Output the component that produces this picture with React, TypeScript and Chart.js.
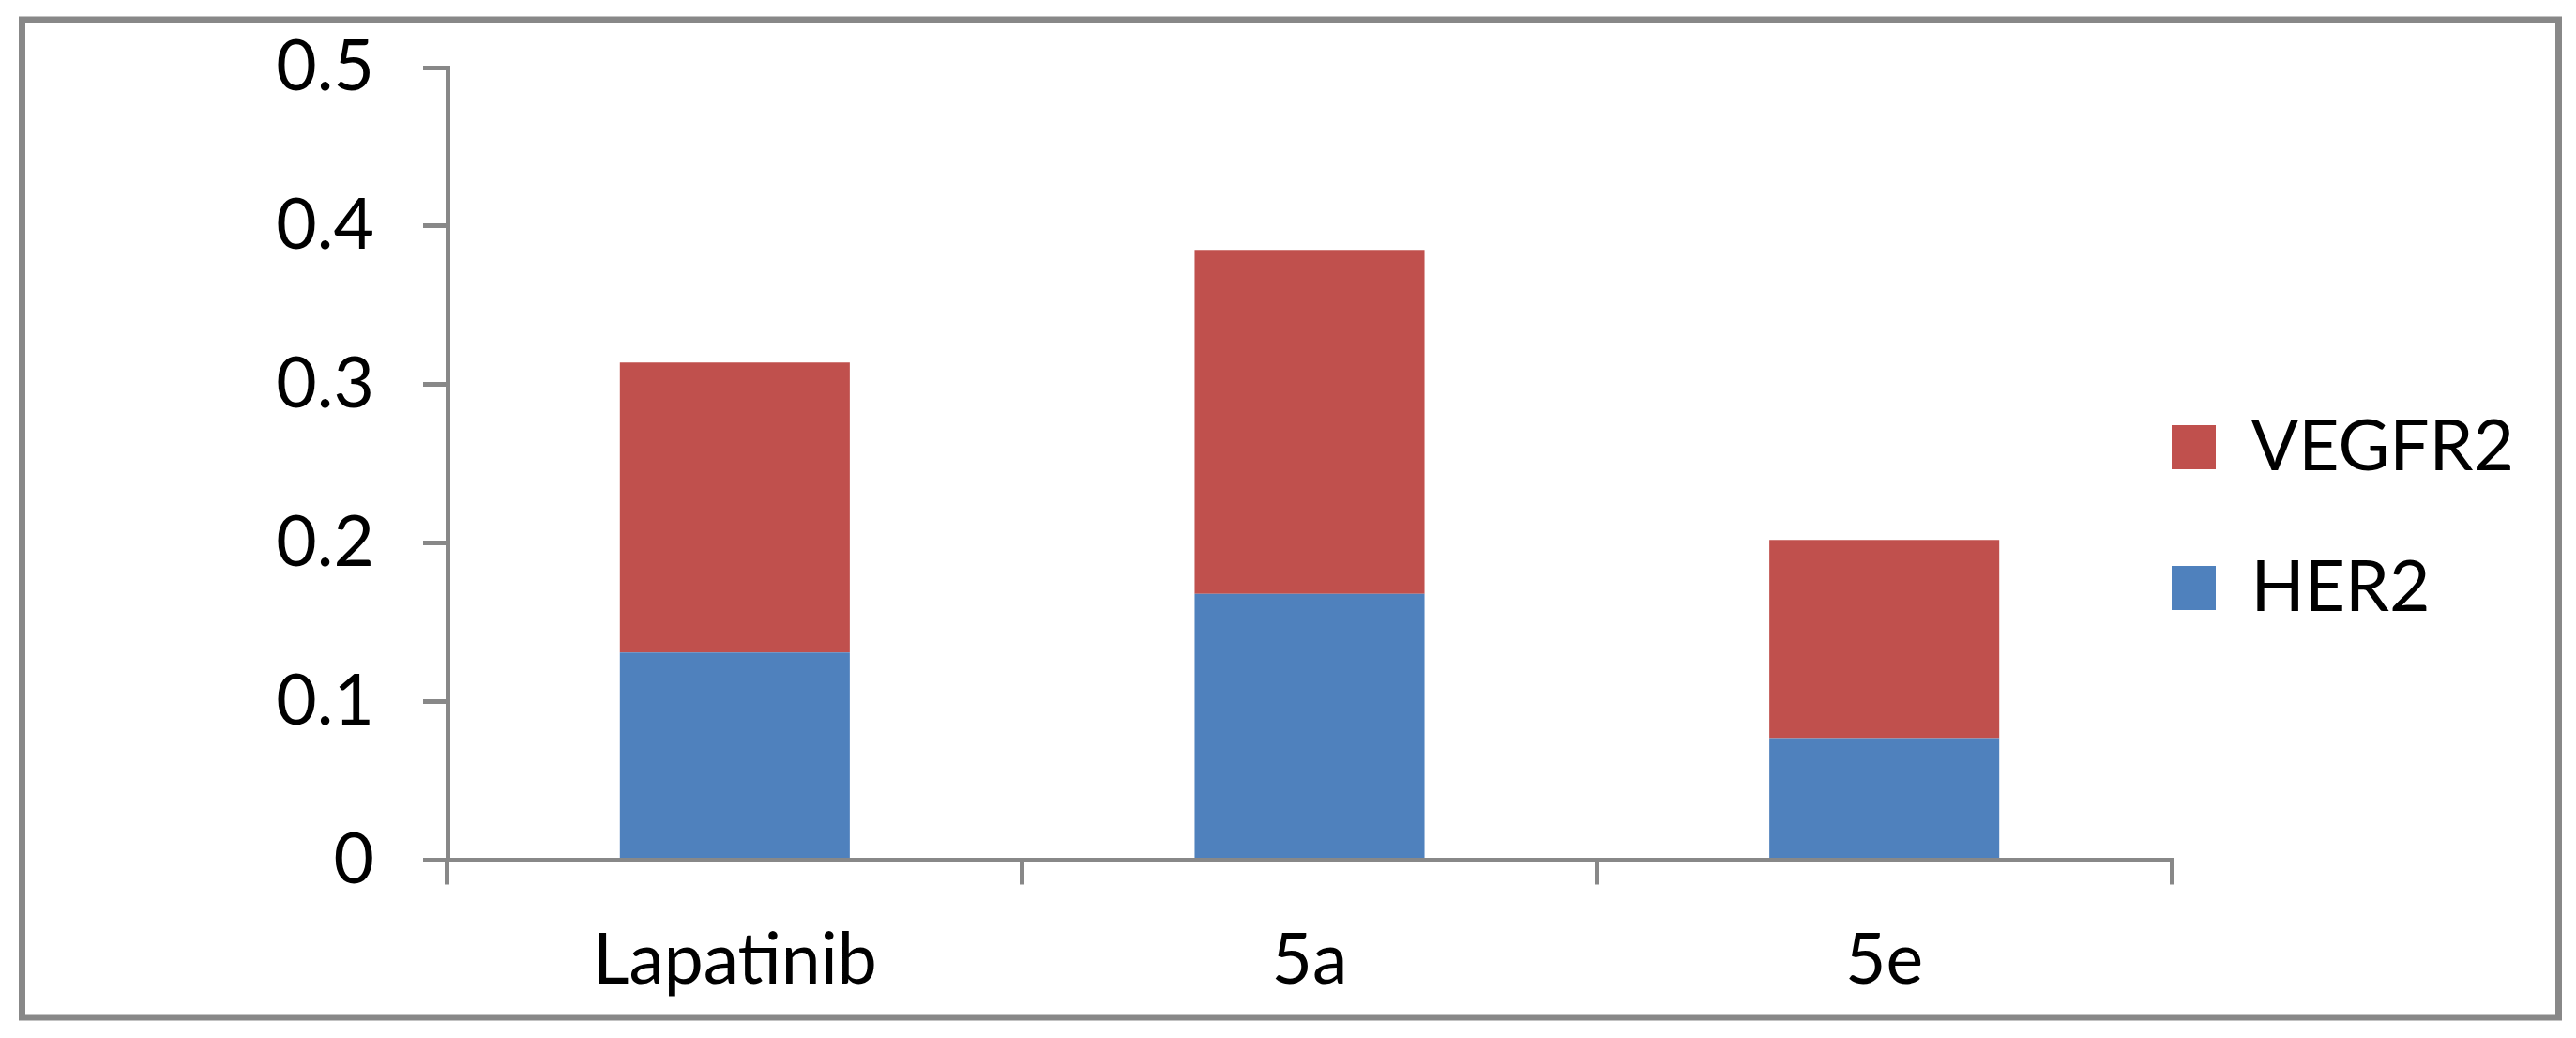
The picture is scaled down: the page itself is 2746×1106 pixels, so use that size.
import React, { useEffect, useRef } from 'react';
import { Chart, registerables } from 'chart.js';

Chart.register(...registerables);

const categories: string[] = ['Lapatinib', '5a', '5e'];
const her2Values: number[] = [0.131, 0.168, 0.077];
const vegfr2Values: number[] = [0.183, 0.217, 0.125];
const yTickValues: number[] = [0, 0.1, 0.2, 0.3, 0.4, 0.5];
const seriesNames: string[] = ['HER2', 'VEGFR2'];

const W = 2746;
const H = 1106;
const FONT = 'Lato';
const FONT_SIZE = 75;
const AXIS_COLOR = '#888888';
const PLOT_RIGHT = 2315;
const BOX = 47;

const framePlugin = {
  id: 'frame',
  beforeDraw(chart: any) {
    const c = chart.ctx;
    c.save();
    c.fillStyle = '#ffffff';
    c.fillRect(0, 0, chart.width, chart.height);
    c.strokeStyle = AXIS_COLOR;
    c.lineWidth = 7;
    c.strokeRect(23.5, 21, 2704, 1063);
    c.restore();
  },
};

function legendWidth(): number {
  const m = document.createElement('canvas').getContext('2d') as CanvasRenderingContext2D;
  m.font = `${FONT_SIZE}px ${FONT}`;
  const w = Math.max(...seriesNames.map((s) => m.measureText(s).width));
  return BOX + FONT_SIZE / 2 + w + 10;
}

export default function App() {
  const ref = useRef<HTMLCanvasElement | null>(null);

  useEffect(() => {
    if (!ref.current) return;
    const lw = legendWidth();
    const chart = new Chart(ref.current, {
      type: 'bar',
      data: {
        labels: categories,
        datasets: [
          {
            label: seriesNames[0],
            data: her2Values,
            backgroundColor: '#4F81BD',
            borderWidth: 0,
          },
          {
            label: seriesNames[1],
            data: vegfr2Values,
            backgroundColor: '#C0504D',
            borderWidth: 0,
          },
        ],
      },
      options: {
        responsive: false,
        animation: false,
        devicePixelRatio: 1,
        layout: { padding: { left: 0, top: 72, right: Math.max(0, W - PLOT_RIGHT - lw), bottom: 0 } },
        datasets: { bar: { categoryPercentage: 1.0, barPercentage: 0.4 } },
        plugins: {
          tooltip: { enabled: false },
          legend: {
            display: true,
            position: 'right',
            align: 'center',
            reverse: true,
            maxWidth: 2000,
            labels: {
              boxWidth: BOX,
              boxHeight: BOX,
              padding: 0,
              color: '#000000',
              font: { family: FONT, size: FONT_SIZE, lineHeight: 2 },
              generateLabels(chart: any) {
                const items = (Chart as any).defaults.plugins.legend.labels.generateLabels(chart);
                return items.map((it: any) => ({ ...it, text: [it.text], lineWidth: 0 }));
              },
            },
          },
        },
        scales: {
          x: {
            stacked: true,
            afterFit(scale: any) {
              scale.height = H - 916.5;
            },
            grid: {
              offset: true,
              drawOnChartArea: false,
              drawTicks: true,
              tickLength: 26,
              color: AXIS_COLOR,
              lineWidth: 5,
            },
            border: { display: true, color: AXIS_COLOR, width: 5 },
            ticks: {
              color: '#000000',
              padding: 36,
              font: { family: FONT, size: FONT_SIZE },
            },
          },
          y: {
            stacked: true,
            min: 0,
            max: 0.5,
            afterFit(scale: any) {
              scale.width = 477;
              scale.paddingTop = 0;
              scale.paddingBottom = 0;
            },
            afterBuildTicks(scale: any) {
              scale.ticks = yTickValues.map((v) => ({ value: v }));
            },
            grid: {
              drawOnChartArea: false,
              drawTicks: true,
              tickLength: 26,
              color: AXIS_COLOR,
              lineWidth: 5,
            },
            border: { display: true, color: AXIS_COLOR, width: 5 },
            ticks: {
              color: '#000000',
              padding: 52,
              font: { family: FONT, size: FONT_SIZE },
              callback: (v: any) => String(Math.round(Number(v) * 10) / 10),
            },
          },
        },
      },
      plugins: [framePlugin],
    } as any);
    return () => chart.destroy();
  }, []);

  return (
    <div style={{ position: 'absolute', left: 0, top: 0, width: W, height: H, background: '#fff' }}>
      <canvas ref={ref} width={W} height={H} style={{ display: 'block', width: W, height: H }} />
    </div>
  );
}
